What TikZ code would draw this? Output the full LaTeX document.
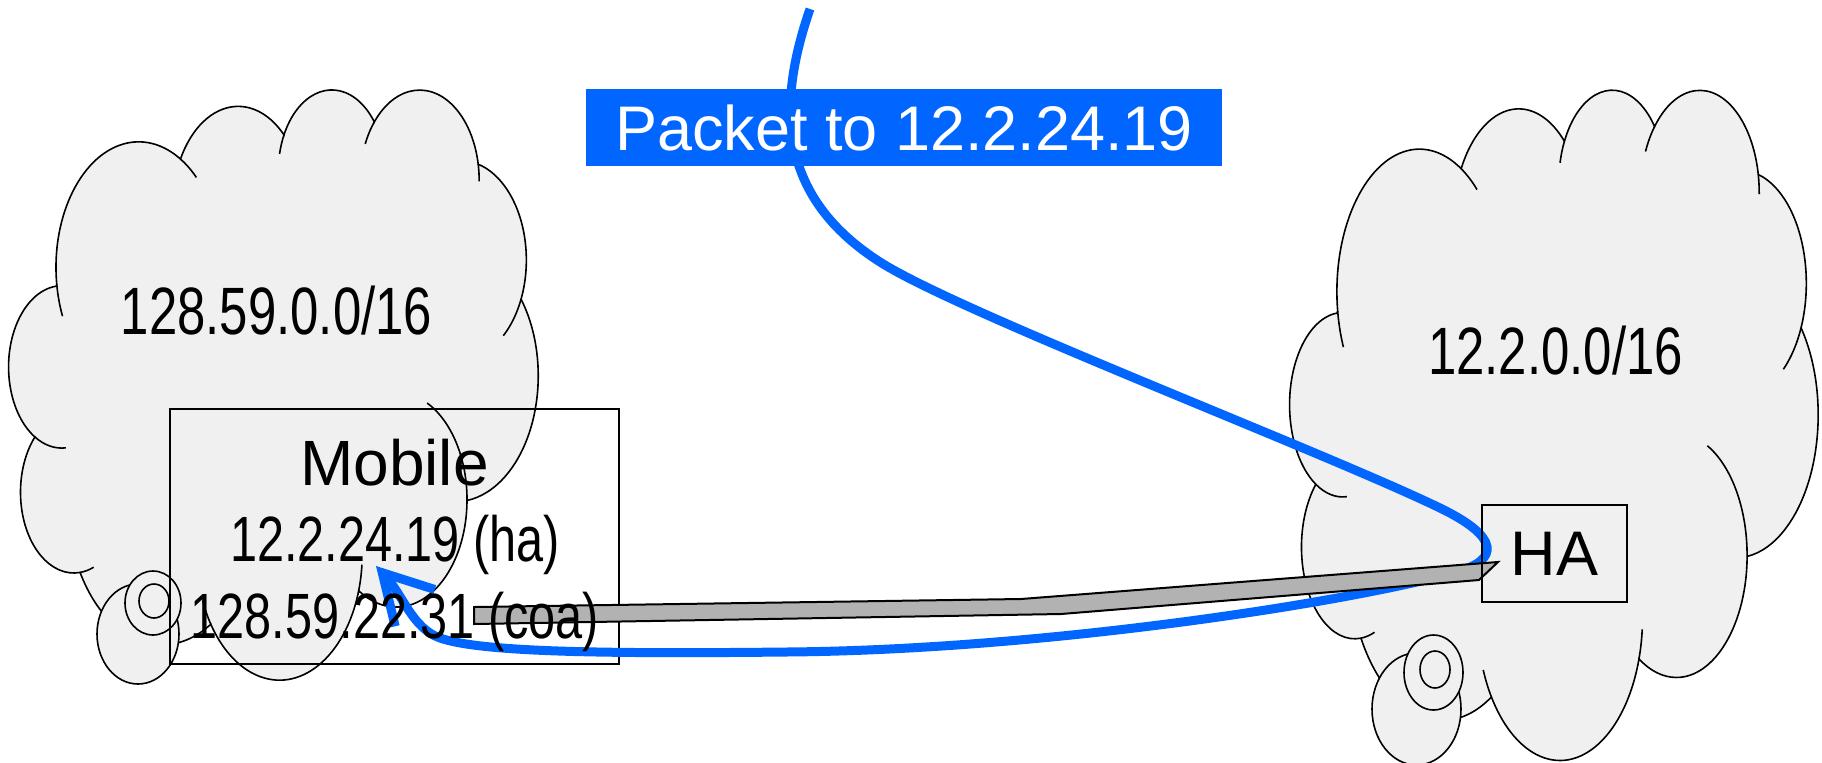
\documentclass[tikz,border=0pt]{standalone}
\usepackage{fontspec}
\setmainfont{Liberation Sans}
\newfontfamily\narrowfont[FakeStretch=0.76]{Liberation Sans}
\usetikzlibrary{arrows.meta}

\definecolor{cloudgray}{RGB}{240,240,240}
\definecolor{pktblue}{RGB}{0,102,255}
\definecolor{tunnelgray}{RGB}{178,178,178}

% one lobe of a cloud: x radius, y radius, start and end angle
\newcommand\lobe[4]{arc[x radius=#1, y radius=#2, start angle=#3, end angle=#4]}

% cloud in a 4320 x 4320 frame: name, left, top, width, height
\newcommand\netcloud[5]{%
  \begin{scope}[shift={(#2,#3)}, xscale=#4/4320, yscale=#5/4320]
    % outline
    \filldraw[cloudshape] (390,1437) coordinate (#1-0)
      \lobe{675.3}{919.0}{172.25}{300.37} coordinate (#1-1)
      \lobe{533.3}{726.7}{-152.02}{-45.45} coordinate (#1-2)
      \lobe{436.5}{594.5}{-153.49}{-37.31} coordinate (#1-3)
      \lobe{485.7}{659.5}{-139.71}{-10.21} coordinate (#1-4)
      \lobe{533.3}{727.3}{-74.77}{23.21} coordinate (#1-5)
      \lobe{677.5}{922.0}{-37.52}{81.86} coordinate (#1-6)
      \lobe{578.5}{786.7}{0.46}{121.98} coordinate (#1-7)
      \lobe{675.2}{921.5}{16.84}{146.23} coordinate (#1-8)
      \lobe{772.0}{1054.3}{58.99}{150.18} coordinate (#1-9)
      \lobe{436.0}{591.8}{83.31}{223.09} coordinate (#1-10)
      \lobe{434.5}{594.5}{120.35}{264.13} -- cycle;
    % inner hooks
    \draw[cloudshape, fill=none] (#1-10) \lobe{434.5}{594.5}{120.35}{85.55};
    \draw[cloudshape, fill=none] (#1-9) \lobe{436.0}{591.8}{83.31}{68.24};
    \draw[cloudshape, fill=none] (#1-8) \lobe{675.2}{921.5}{146.23}{158.48};
    \draw[cloudshape, fill=none] (#1-7) \lobe{675.2}{921.5}{16.84}{4.74};
    \draw[cloudshape, fill=none] (#1-6) \lobe{578.5}{786.7}{0.46}{-64.03};
    \draw[cloudshape, fill=none] (#1-5) \lobe{533.3}{727.3}{23.21}{49.64};
    \draw[cloudshape, fill=none] (#1-4) \lobe{485.7}{659.5}{-10.21}{0.82};
    \draw[cloudshape, fill=none] (#1-3) \lobe{485.7}{659.5}{-139.71}{-156.29};
    \draw[cloudshape, fill=none] (#1-2) \lobe{436.5}{594.5}{-153.49}{-167.73};
    \draw[cloudshape, fill=none] (#1-1) \lobe{675.3}{919.0}{-59.63}{-45.74};
    \draw[cloudshape, fill=none] (#1-0) \lobe{675.3}{919.0}{172.25}{157.10};
  \end{scope}}

\begin{document}
\begin{tikzpicture}[x=0.5pt, y=-0.5pt,
    cloudshape/.style={draw=black, line width=0.8pt, fill=cloudgray},
    bubble/.style={draw=black, line width=0.8pt, fill=cloudgray},
    hostbox/.style={draw=black, line width=1.2pt, inner sep=0pt},
    netlabel/.style={font=\narrowfont\fontsize{33.5}{40}\selectfont, anchor=base},
    addrlabel/.style={font=\narrowfont\fontsize{32}{38}\selectfont, anchor=base},
    packetlabel/.style={fill=pktblue, text=white, font=\fontsize{31.5}{38}\selectfont,
        inner sep=0pt, minimum width=318pt, minimum height=38.5pt},
    tunnel/.style={draw=black, line width=1pt, fill=tunnelgray},
    packetpath/.style={draw=pktblue, line width=4.5pt, -{Straight Barb[length=24pt, width=27pt]}}
]
    \path[fill=white] (0,0) rectangle (1822,762);
    \useasboundingbox (0,0) rectangle (1822,762);

    % Visited network and home network
    \netcloud{visit}{9}{88}{529}{590}
    \netcloud{home}{1290}{88}{528}{670}

    % Callout bubbles under the clouds
    \draw[bubble] (138,634) ellipse [x radius=41, y radius=50];
    \draw[bubble] (153,603) ellipse [x radius=28, y radius=32];
    \draw[bubble] (154,601) ellipse [x radius=15, y radius=17];
    \draw[bubble] (1416.5,709) ellipse [x radius=44.5, y radius=56];
    \draw[bubble] (1433.5,672.5) ellipse [x radius=29.5, y radius=37.5];
    \draw[bubble] (1435,669.5) ellipse [x radius=15, y radius=18.5];

    \node[netlabel] (visitnet) at (276.5,334) {128.59.0.0/16};
    \node[netlabel] (homenet) at (1555.5,374) {12.2.0.0/16};

    % Mobile host
    \node[hostbox, minimum width=224.5pt, minimum height=127.5pt] (mobile) at (394.5,536.5) {};

    % Packet path: in at the top, round the HA, back to the mobile
    \coordinate (feed) at (810,9);
    \coordinate (arrive) at (376,566);
    \draw[packetpath] (feed) .. controls (775,110) and (780,198) .. (880,262)
        .. controls (960,313) and (1320,450) .. (1440,508)
        .. controls (1500,537) and (1500,560) .. (1456,572)
        .. controls (1360,600) and (1050,650) .. (786,652)
        .. controls (600,654) and (480,652) .. (440,638)
        .. controls (412,628) and (403,595) .. (arrive);
    \node[packetlabel] (packet) at (904,127.5) {Packet to 12.2.24.19};

    % Tunnel from HA to the care-of address
    \filldraw[tunnel] (474,607) -- (1021,599) -- (1498,562) -- (1479,580) -- (1061,614) -- (474,624) -- cycle;

    \node[font=\fontsize{32}{38}\selectfont, anchor=base] (mobname) at (394.5,485) {Mobile};
    \node[addrlabel] (homeaddr) at (395,561) {12.2.24.19 (ha)};
    \node[addrlabel] (careaddr) at (395,638) {128.59.22.31 (coa)};

    % Home agent
    \node[hostbox, minimum width=72.5pt, minimum height=48.5pt, font=\fontsize{31.5}{38}\selectfont] (ha) at (1554.5,553.5) {HA};
\end{tikzpicture}
\end{document}
